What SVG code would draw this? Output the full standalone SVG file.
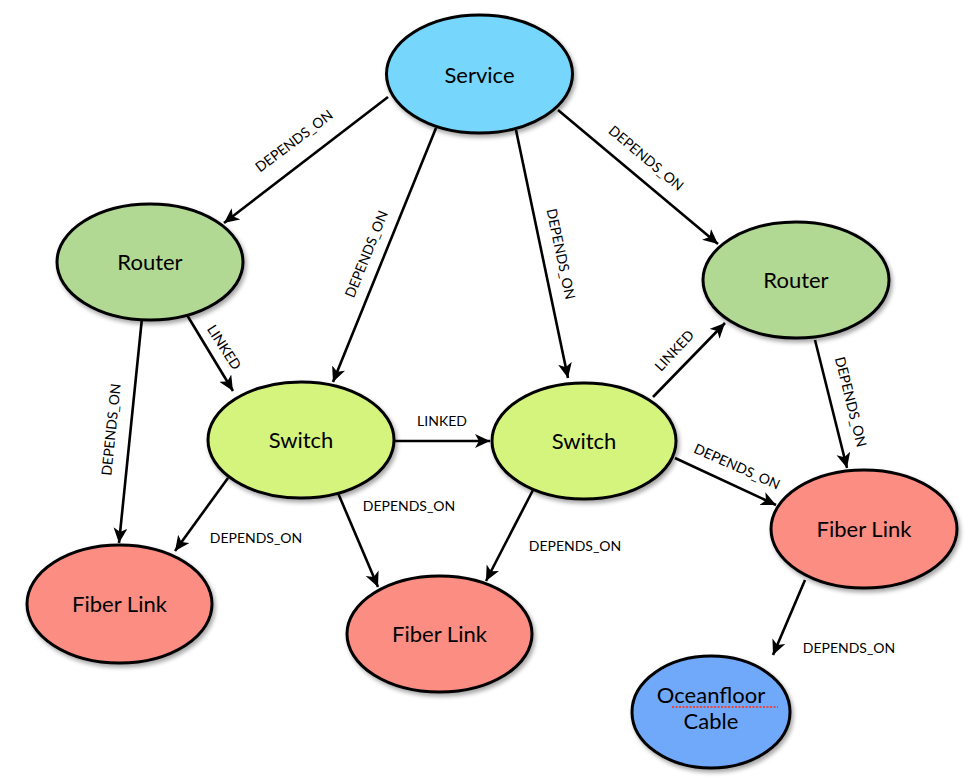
<svg xmlns="http://www.w3.org/2000/svg" width="970" height="780" viewBox="0 0 970 780">
<defs>
<filter id="sh" x="-20%" y="-20%" width="150%" height="150%">
<feDropShadow dx="2" dy="3" stdDeviation="2" flood-color="#000" flood-opacity="0.35"/>
</filter>
<marker id="ah" markerUnits="userSpaceOnUse" markerWidth="18" markerHeight="16" refX="15" refY="7" orient="auto">
<path d="M0,0 L15,7 L0,14 L4,7 z" fill="#000"/>
</marker>
<style>
.n ellipse{stroke:#000;stroke-width:3;filter:url(#sh)}
.n text{font-family:"Lato","Open Sans","DejaVu Sans",sans-serif;font-size:22px;fill:#000;text-anchor:middle}
.e line{stroke:#000;stroke-width:2.6;marker-end:url(#ah)}
.l{font-family:"Lato","Open Sans","DejaVu Sans",sans-serif;font-size:14px;fill:#000;text-anchor:middle}
</style>
</defs>
<rect width="970" height="780" fill="#fff"/>
<g id="edges" class="e">
<line x1="388" y1="97" x2="224" y2="223"/>
<line x1="436" y1="128" x2="333" y2="382"/>
<line x1="516" y1="130" x2="568" y2="378"/>
<line x1="558" y1="110" x2="718" y2="244"/>
<line x1="187" y1="315" x2="233" y2="391"/>
<line x1="142" y1="318" x2="119" y2="543"/>
<line x1="394" y1="441" x2="490" y2="441"/>
<line x1="653" y1="397" x2="725" y2="323"/>
<line x1="815" y1="340" x2="847" y2="468"/>
<line x1="675" y1="458" x2="776" y2="505"/>
<line x1="228" y1="478" x2="175" y2="551"/>
<line x1="338" y1="493" x2="378" y2="587"/>
<line x1="533" y1="490" x2="486" y2="581"/>
<line x1="805" y1="580" x2="773" y2="655"/>
</g>
<g id="edge-labels">
<text class="l" transform="translate(297,145) rotate(-37)">DEPENDS_ON</text>
<text class="l" transform="translate(371,256) rotate(-68)">DEPENDS_ON</text>
<text class="l" transform="translate(556,255) rotate(78)">DEPENDS_ON</text>
<text class="l" transform="translate(643,162) rotate(40)">DEPENDS_ON</text>
<text class="l" transform="translate(220,350) rotate(57)">LINKED</text>
<text class="l" transform="translate(116,430) rotate(-84)">DEPENDS_ON</text>
<text class="l" x="442" y="426">LINKED</text>
<text class="l" transform="translate(678,354) rotate(-47)">LINKED</text>
<text class="l" transform="translate(846,403) rotate(76)">DEPENDS_ON</text>
<text class="l" transform="translate(735,471) rotate(24)">DEPENDS_ON</text>
<text class="l" x="256" y="543">DEPENDS_ON</text>
<text class="l" x="409" y="511">DEPENDS_ON</text>
<text class="l" x="575" y="551">DEPENDS_ON</text>
<text class="l" x="849" y="653">DEPENDS_ON</text>
</g>
<g id="service" class="n"><ellipse cx="479.5" cy="74" rx="93" ry="59" fill="#76D6FC"/><text x="479.5" y="83">Service</text></g>
<g id="router1" class="n"><ellipse cx="150" cy="262" rx="93" ry="58" fill="#B2D993"/><text x="150" y="270">Router</text></g>
<g id="router2" class="n"><ellipse cx="796" cy="280" rx="93" ry="58" fill="#B2D993"/><text x="796" y="288">Router</text></g>
<g id="switch1" class="n"><ellipse cx="301" cy="440" rx="93" ry="58" fill="#D4F47E"/><text x="301" y="448">Switch</text></g>
<g id="switch2" class="n"><ellipse cx="584" cy="441" rx="92" ry="58" fill="#D4F47E"/><text x="584" y="449">Switch</text></g>
<g id="fiber1" class="n"><ellipse cx="119.5" cy="604" rx="92.5" ry="59" fill="#FB8D82"/><text x="119.5" y="612">Fiber Link</text></g>
<g id="fiber2" class="n"><ellipse cx="439.5" cy="634" rx="92.5" ry="58" fill="#FB8D82"/><text x="439.5" y="642">Fiber Link</text></g>
<g id="fiber3" class="n"><ellipse cx="864" cy="529" rx="93" ry="59" fill="#FB8D82"/><text x="864" y="537">Fiber Link</text></g>
<g id="oceanfloor" class="n"><ellipse cx="711" cy="712" rx="79" ry="56" fill="#70A8FA"/><text x="711" y="703">Oceanfloor</text><text x="711" y="729">Cable</text><line x1="672" y1="707" x2="778" y2="707" stroke="#E8453C" stroke-width="2" stroke-dasharray="2,1.5"/></g>
</svg>
